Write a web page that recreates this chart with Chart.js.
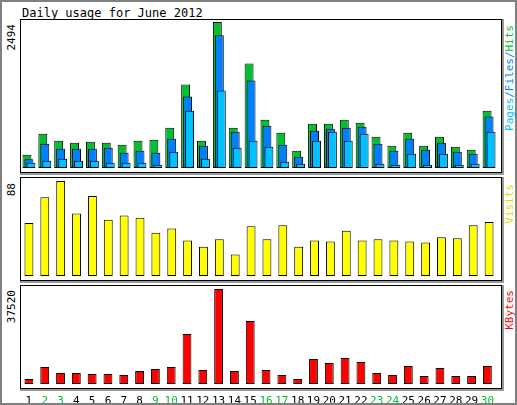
<!DOCTYPE html>
<html><head><meta charset="utf-8">
<script src="https://cdn.jsdelivr.net/npm/chart.js@4"></script>
<style>
body{margin:0;background:#fff;font-family:"DejaVu Sans Mono",monospace;}
#wrap{position:absolute;left:0;top:0;width:513px;height:401px;border:2px solid #808080;background:#fff;}
.frame{position:absolute;border:1px solid #000;box-shadow:1px 1px 0 1px #999;}
.cv{position:absolute;}
.v{position:absolute;writing-mode:vertical-rl;transform:rotate(180deg);font-size:11px;line-height:11px;white-space:nowrap;}
#title{position:absolute;left:20px;top:4px;font-size:12px;}
</style></head><body>
<div id="wrap">
<div id="title">Daily usage for June 2012</div>
<div class="frame" style="left:18px;top:17px;width:480px;height:152px"></div>
<div class="frame" style="left:18px;top:175px;width:480px;height:102px"></div>
<div class="frame" style="left:18px;top:283px;width:480px;height:102px"></div>
<div class="v" style="left:4px;top:22px">2494</div>
<div class="v" style="left:4px;top:181px">88</div>
<div class="v" style="left:4px;top:288px">37520</div>
<div class="v" style="left:502px;top:23px"><span style="color:#00c0ff">Pages</span><span style="color:#0080ff">/Files/</span><span style="color:#00c030">Hits</span></div>
<div class="v" style="left:502px;top:182px;color:#e0e000">Visits</div>
<div class="v" style="left:502px;top:288px;color:#ff0000">KBytes</div>
</div>
<div class="cv" style="left:21px;top:19px;width:476px;height:149px"><canvas id="c1"></canvas></div>
<div class="cv" style="left:21px;top:177px;width:476px;height:99px"><canvas id="c2"></canvas></div>
<div class="cv" style="left:21px;top:285px;width:476px;height:118px"><canvas id="c3"></canvas></div>
<script>
const days=[1,2,3,4,5,6,7,8,9,10,11,12,13,14,15,16,17,18,19,20,21,22,23,24,25,26,27,28,29,30];
const weekend=[2,3,9,10,16,17,23,24,30];
const hits=[226,586,466,432,449,432,398,466,483,689,1426,466,2494,689,1786,826,603,295,758,758,826,775,535,380,603,380,535,363,312,980];
const files=[151,415,329,329,329,346,261,295,261,500,1220,380,2266,620,1495,723,398,192,638,672,689,706,415,295,500,312,432,278,243,878];
const pages=[89,123,158,123,123,89,89,89,55,278,980,158,1323,346,466,363,106,72,466,620,466,586,72,55,243,55,243,55,72,620];
const visits=[49,73,88,58,74,52,56,54,40,44,33,27,34,20,46,34,47,27,33,32,42,33,34,33,32,31,36,35,47,50];
const kbytes=[1974,6712,4343,4343,3948,3948,3553,5132,5922,6712,19740,5527,37520,5132,24872,5527,3553,1974,9870,8291,10265,8686,4343,3553,7106,3158,6317,3158,3158,7106];
const maxHits=2494,maxVisits=88,maxKB=37520;

const base={responsive:true,maintainAspectRatio:false,animation:false,
 plugins:{legend:{display:false},tooltip:{enabled:false}},layout:{padding:0}};
function xs(show){return {display:show,grid:{display:false},border:{display:false},
 ticks:{color:c=>weekend.includes(days[c.index])?'#00c030':'#000',font:{family:'DejaVu Sans Mono',size:11},padding:3,maxRotation:0,autoSkip:false}};}
function ys(m){return {display:false,min:0,max:m};}
const drawOrder={id:'drawOrder',beforeDatasetsDraw(ch){
 for(let i=0;i<ch.data.datasets.length;i++){ch.getDatasetMeta(i).controller.draw();}
 return false;}};
const xlabPad={id:'xlabPad',afterLayout(ch){}};
new Chart(document.getElementById('c1'),{type:'bar',
 data:{labels:days,datasets:[
  {data:hits,backgroundColor:'#00c030'},
  {data:files,backgroundColor:'#0080ff'},
  {data:pages,backgroundColor:'#00c0ff'}].map(d=>Object.assign(d,{borderColor:'#000',borderWidth:1,borderSkipped:false,categoryPercentage:0.375,barPercentage:4.5}))},
 options:Object.assign({},base,{scales:{x:xs(false),y:ys(maxHits*149/146)}}),plugins:[drawOrder]});
new Chart(document.getElementById('c2'),{type:'bar',
 data:{labels:days,datasets:[{data:visits,backgroundColor:'#ffff00',borderColor:'#000',borderWidth:1,borderSkipped:false,categoryPercentage:1,barPercentage:0.56}]},
 options:Object.assign({},base,{scales:{x:xs(false),y:ys(maxVisits*99/95)}})});
new Chart(document.getElementById('c3'),{type:'bar',
 data:{labels:days,datasets:[{data:kbytes,backgroundColor:'#ff0000',borderColor:'#000',borderWidth:1,borderSkipped:false,categoryPercentage:1,barPercentage:0.56}]},
 options:Object.assign({},base,{scales:{x:Object.assign(xs(true),{afterFit(s){s.height=19;}}),y:ys(maxKB*99/95)}})});
</script></body></html>
